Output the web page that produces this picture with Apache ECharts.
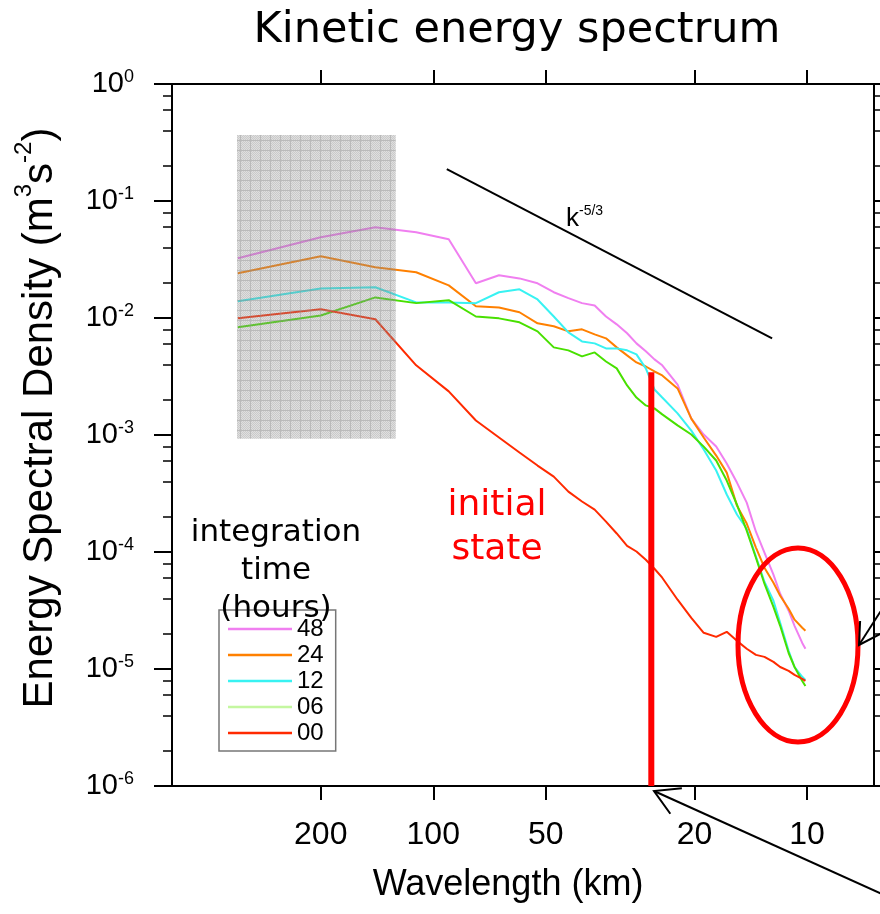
<!DOCTYPE html>
<html><head><meta charset="utf-8">
<script src="https://cdn.jsdelivr.net/npm/echarts@6/dist/echarts.min.js"></script>
<style>html,body{margin:0;padding:0;background:#fff}#c{width:880px;height:914px}</style>
</head><body><div id="c"></div>
<script>
// ---- data (wavelength in km, spectral density in m^3 s^-2) ----
const wavelengths = [333.3,200,142.9,111.1,90.9,76.9,66.7,58.8,52.6,47.6,43.5,40.0,37.0,34.5,32.3,30.3,28.6,27.0,25.6,24.4,22.2,20.4,18.9,17.5,16.4,15.4,14.5,13.7,13.0,12.3,11.8,11.2,10.8,10.3,10.1];
const e48 = [0.0324,0.0490,0.0597,0.0541,0.0471,0.0198,0.0232,0.0218,0.0198,0.0166,0.0148,0.0134,0.0128,0.0103,0.00883,0.00740,0.00607,0.00519,0.00443,0.00394,0.00270,0.00138,0.00101,0.000796,0.000570,0.000392,0.000264,0.000149,0.0000986,0.0000640,0.0000440,0.0000315,0.0000234,0.0000167,0.0000149];
const e24 = [0.0241,0.0337,0.0271,0.0246,0.0190,0.0126,0.0123,0.0112,0.00900,0.00849,0.00769,0.00800,0.00725,0.00670,0.00561,0.00479,0.00417,0.00385,0.00349,0.00323,0.00250,0.00138,0.000951,0.000667,0.000477,0.000249,0.000175,0.000109,0.0000734,0.0000546,0.0000423,0.0000327,0.0000264,0.0000225,0.0000212];
const e12 = [0.0139,0.0179,0.0183,0.0136,0.0136,0.0134,0.0166,0.0176,0.0144,0.0103,0.00754,0.00631,0.00607,0.00550,0.00550,0.00529,0.00489,0.00371,0.00245,0.00209,0.00153,0.00109,0.000751,0.000497,0.000310,0.000209,0.000158,0.0000912,0.0000557,0.0000383,0.0000248,0.0000143,0.0000104,0.00000857,0.00000807];
const e06 = [0.00832,0.0105,0.0150,0.0134,0.0142,0.0103,0.00993,0.00918,0.00769,0.00561,0.00529,0.00470,0.00508,0.00425,0.00371,0.00265,0.00209,0.00179,0.00169,0.00150,0.00121,0.00101,0.000796,0.000605,0.000408,0.000254,0.000152,0.0000893,0.0000536,0.0000340,0.0000234,0.0000137,0.0000104,0.00000791,0.00000716];
const e00 = [0.00993,0.0119,0.00975,0.00394,0.00236,0.00133,0.000951,0.000708,0.000548,0.000441,0.000328,0.000270,0.000230,0.000182,0.000144,0.000113,0.000101,0.0000859,0.0000719,0.0000603,0.0000391,0.0000274,0.0000204,0.0000188,0.0000208,0.0000174,0.0000149,0.0000132,0.0000127,0.0000115,0.0000104,0.00000963,0.00000891,0.00000824,0.00000791];
const seriesNames = ['48','24','12','06','00'];
// reference slope line k^-5/3
const slopeWavelengths = [92, 12.4];
const slopeValues = [0.187, 0.0067];
// red cutoff marker
const cutoffWavelengths = [26.1, 26.1];
const cutoffValues = [0.00343, 1e-6];
// shaded box
const shadeWavelengths = [335, 126];
const shadeValues = [0.366, 0.00093];
// axis ranges / ticks
const xRange = [6.62, 500];
const yRange = [1e-6, 1];
const xTickLabels = [200, 100, 50, 20, 10];
const minorMultipliers = [2, 4, 6, 8];

const lg = Math.log10;
const pts = vals => wavelengths.map((w, i) => [lg(w), lg(vals[i])]);
const xMin = lg(xRange[0]), xMax = lg(xRange[1]);
const yMin = lg(yRange[0]), yMax = lg(yRange[1]);
const xTicks = xTickLabels.map(lg);
const yMinor = [];
for (let d = yMin; d < yMax; d++) minorMultipliers.forEach(m => yMinor.push(d + lg(m)));

// shading pattern
const tile = document.createElement('canvas');
tile.width = 10; tile.height = 10;
const tc = tile.getContext('2d');
for (let i = 0; i < 10; i++) for (let j = 0; j < 10; j++) {
  let a = ((i + j) % 2) ? 0.28 : 0.46;
  if (i === 0 || j === 0) a = 0.6;
  tc.fillStyle = 'rgba(140,140,140,' + a + ')';
  tc.fillRect(i, j, 1, 1);
}

const chart = echarts.init(document.getElementById('c'), null, {renderer: 'canvas'});
const axisLine = {show: true, onZero: false, lineStyle: {color: '#000', width: 2}};
const FONT = 'Liberation Sans';

function arrow(tail, tip, len) {
  const dx = tail[0] - tip[0], dy = tail[1] - tip[1];
  const L = Math.hypot(dx, dy), ux = dx / L, uy = dy / L;
  const c = Math.cos(Math.PI / 6), s = Math.sin(Math.PI / 6);
  const w1 = [tip[0] + len * (ux * c - uy * s), tip[1] + len * (ux * s + uy * c)];
  const w2 = [tip[0] + len * (ux * c + uy * s), tip[1] + len * (-ux * s + uy * c)];
  return [
    {type: 'polyline', z: 100, shape: {points: [tail, tip]}, style: {stroke: '#000', lineWidth: 2, fill: null}},
    {type: 'polyline', z: 100, shape: {points: [w1, tip, w2]}, style: {stroke: '#000', lineWidth: 2, fill: null}}
  ];
}

const colors = {'48': '#f07ff0', '24': '#ff8000', '12': '#38f2f2', '06': '#48e000', '00': '#ff2a00'};
const seriesData = {'48': e48, '24': e24, '12': e12, '06': e06, '00': e00};

const option = {
  animation: false,
  backgroundColor: '#fff',
  grid: {left: 172, top: 84, width: 702, height: 702, containLabel: false},
  xAxis: [
    {type: 'value', position: 'bottom', min: xMin, max: xMax, inverse: true,
     axisLine: axisLine,
     axisTick: {show: true, customValues: xTicks, length: 14, lineStyle: {color: '#000', width: 2}},
     axisLabel: {show: true, customValues: xTicks, formatter: v => String(Math.round(Math.pow(10, v))),
       fontSize: 32, fontFamily: FONT, color: '#000', margin: 33},
     splitLine: {show: false}},
    {type: 'value', position: 'top', min: xMin, max: xMax, inverse: true,
     axisLine: axisLine,
     axisTick: {show: true, customValues: xTicks, length: 14, lineStyle: {color: '#000', width: 2}},
     axisLabel: {show: false}, splitLine: {show: false}}
  ],
  yAxis: [
    {type: 'value', position: 'left', min: yMin, max: yMax, interval: 1,
     axisLine: axisLine,
     axisTick: {show: true, length: 18, lineStyle: {color: '#000', width: 2}},
     axisLabel: {show: true, margin: 38, color: '#000',
       formatter: v => '{b|10}{s|' + v + '}',
       rich: {b: {fontSize: 29, fontFamily: FONT, color: '#000', lineHeight: 32},
              s: {fontSize: 18, fontFamily: FONT, color: '#000', lineHeight: 18, verticalAlign: 'top'}}},
     splitLine: {show: false}},
    {type: 'value', position: 'left', min: yMin, max: yMax,
     axisLine: {show: false},
     axisTick: {show: true, customValues: yMinor, length: 9, lineStyle: {color: '#000', width: 1.5}},
     axisLabel: {show: false}, splitLine: {show: false}},
    {type: 'value', position: 'right', min: yMin, max: yMax, interval: 1,
     axisLine: axisLine,
     axisTick: {show: true, length: 18, lineStyle: {color: '#000', width: 2}},
     axisLabel: {show: false}, splitLine: {show: false}},
    {type: 'value', position: 'right', min: yMin, max: yMax,
     axisLine: {show: false},
     axisTick: {show: true, customValues: yMinor, length: 9, lineStyle: {color: '#000', width: 1.5}},
     axisLabel: {show: false}, splitLine: {show: false}}
  ],
  legend: {
    data: [{name: '48'}, {name: '24'}, {name: '12'},
           {name: '06', itemStyle: {color: '#c4f7a0'}},
           {name: '00'}],
    icon: 'rect',
    orient: 'vertical', left: 219, top: 610, itemWidth: 64, itemHeight: 2.5, itemGap: 2,
    padding: [7, 12, 6, 9], borderColor: '#777', borderWidth: 1.5, backgroundColor: '#fff',
    selectedMode: false,
    textStyle: {fontSize: 24, fontFamily: FONT, color: '#000', lineHeight: 22}
  },
  series: [
    ...seriesNames.map(n => ({
      name: n, type: 'line', data: pts(seriesData[n]), symbol: 'none', showSymbol: false,
      lineStyle: {color: colors[n], width: 2}, itemStyle: {color: colors[n]}, z: 2
    })),
    {name: 'slope', type: 'line', symbol: 'none', z: 3,
     data: slopeWavelengths.map((w, i) => [lg(w), lg(slopeValues[i])]),
     lineStyle: {color: '#000', width: 2}},
    {name: 'cutoff', type: 'line', symbol: 'none', z: 4,
     data: cutoffWavelengths.map((w, i) => [lg(w), lg(cutoffValues[i])]),
     lineStyle: {color: '#ff0000', width: 6}},
    {name: 'shade', type: 'custom', z: 10,
     data: [[lg(shadeWavelengths[0]), lg(shadeValues[0]), lg(shadeWavelengths[1]), lg(shadeValues[1])]],
     encode: {x: [0, 2], y: [1, 3]},
     renderItem: (params, api) => {
       const p1 = api.coord([api.value(0), api.value(1)]);
       const p2 = api.coord([api.value(2), api.value(3)]);
       return {type: 'rect',
         shape: {x: Math.min(p1[0], p2[0]), y: Math.min(p1[1], p2[1]),
                 width: Math.abs(p2[0] - p1[0]), height: Math.abs(p2[1] - p1[1])},
         style: {fill: {image: tile, repeat: 'repeat'}}};
     }}
  ],
  graphic: [
    {type: 'text', z: 100, x: 517, y: 31, style: {text: 'Kinetic energy spectrum', fontSize: 43, fontFamily: 'DejaVu Sans', fill: '#000', align: 'center', verticalAlign: 'middle'}},
    {type: 'text', z: 100, x: 508, y: 885, style: {text: 'Wavelength (km)', fontSize: 36, fontFamily: FONT, fill: '#000', align: 'center', verticalAlign: 'middle'}},
    {type: 'text', z: 100, x: 40, y: 418, rotation: Math.PI / 2,
     style: {text: 'Energy Spectral Density (m{sup|3}s{sup|-2})', fontSize: 42, fontFamily: FONT, fill: '#000',
       lineHeight: 56, align: 'center', verticalAlign: 'middle',
       rich: {sup: {fontSize: 24, fontFamily: FONT, fill: '#000', lineHeight: 24, verticalAlign: 'top'}}}},
    {type: 'text', z: 100, x: 566, y: 219,
     style: {text: 'k{sup|-5/3}', fontSize: 26, fontFamily: FONT, fill: '#000', lineHeight: 30, verticalAlign: 'middle',
       rich: {sup: {fontSize: 14, fontFamily: FONT, fill: '#000', lineHeight: 14, verticalAlign: 'top'}}}},
    {type: 'text', z: 100, x: 276, y: 514, style: {text: 'integration\ntime\n(hours)', fontSize: 31, fontFamily: 'DejaVu Sans', fill: '#000', align: 'center', verticalAlign: 'top', lineHeight: 38}},
    {type: 'text', z: 100, x: 497, y: 484, style: {text: 'initial\nstate', fontSize: 36, fontFamily: 'DejaVu Sans', fill: '#ff0000', align: 'center', verticalAlign: 'top', lineHeight: 44}},
    {type: 'ellipse', z: 100, shape: {cx: 798, cy: 645, rx: 60, ry: 97}, style: {fill: null, stroke: '#ff0000', lineWidth: 5}},
    ...arrow([884, 895], [654, 791], 28),
    ...arrow([884, 606], [859, 645], 24)
  ]
};
chart.setOption(option);
</script>
</body></html>
